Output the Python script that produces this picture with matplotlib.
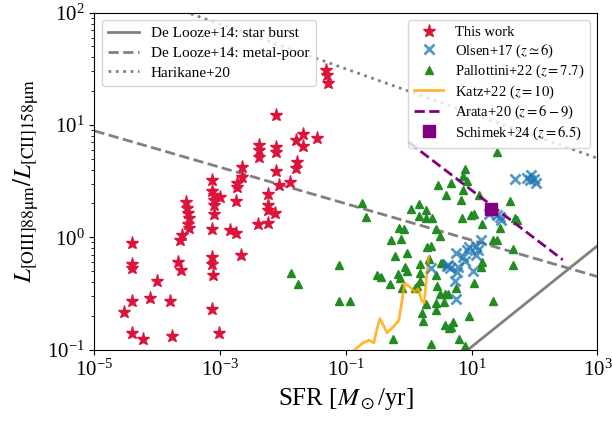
import numpy as np
import matplotlib
matplotlib.use("Agg")
import matplotlib.pyplot as plt
from matplotlib.ticker import NullLocator

plt.rcParams['font.family'] = 'serif'
plt.rcParams['font.serif'] = ['Liberation Serif', 'DejaVu Serif']
plt.rcParams['mathtext.fontset'] = 'stix'

# --- this work (stars) ---
sfr_this = [3.9e-5, 3.9e-5, 3.9e-5, 3.9e-5, 3.0e-5, 3.9e-5, 5.9e-5, 7.7e-5, 1.0e-4, 1.57e-4,
            1.71e-4, 2.15e-4, 2.37e-4, 2.29e-4, 2.46e-4, 2.85e-4, 2.96e-4, 3.1e-4, 3.2e-4, 3.1e-4,
            3.15e-4, 7.4e-4, 7.4e-4, 7.85e-4, 8.0e-4, 8.0e-4, 1.0e-3, 8.0e-4, 7.4e-4, 1.43e-3,
            7.4e-4, 7.4e-4, 7.6e-4, 7.4e-4, 9.6e-4,
            4.8e-2, 4.9e-2, 5.2e-2, 7.7e-3, 2.04e-2, 1.6e-2, 2.09e-2, 3.41e-2, 4.1e-3, 4.1e-3,
            4.1e-3, 7.6e-3, 7.6e-3, 1.64e-2, 1.6e-2, 2.24e-3, 2.24e-3, 1.82e-3, 1.82e-3, 7.6e-3,
            8.7e-3, 1.28e-2, 5.8e-3, 1.78e-3, 5.8e-3, 5.8e-3, 7.4e-3, 4.0e-3, 5.8e-3, 1.78e-3,
            2.13e-3]
ratio_this = [0.89, 0.575, 0.53, 0.27, 0.216, 0.14, 0.123, 0.29, 0.41, 0.27,
              0.132, 0.60, 0.51, 0.95, 1.04, 2.04, 1.81, 1.64, 1.48, 1.31,
              1.20, 3.22, 2.58, 2.37, 2.14, 1.93, 2.29, 1.60, 1.18, 1.15,
              0.67, 0.58, 0.46, 0.23, 0.14,
              30.7, 27.7, 23.4, 12.2, 8.38, 7.31, 6.46, 7.72, 6.69, 5.95,
              5.19, 6.37, 5.75, 4.69, 4.17, 4.23, 3.44, 3.01, 2.81, 3.89,
              2.90, 3.11, 2.41, 2.11, 1.93, 1.74, 1.63, 1.31, 1.34, 1.08,
              0.70]

# --- Pallottini+22 (triangles) ---
sfr_pal = [24.8, 7.77, 7.13, 8.26, 2.86, 4.65, 7.31, 3.87, 13.1, 6.63,
           40.3, 0.177, 0.207, 1.10, 1.46, 1.86, 1.46, 1.84, 2.35, 7.05,
           9.91, 10.8, 14.7, 28.0, 48.4, 51.5, 0.70, 0.83, 2.69, 0.52,
           0.74, 3.11, 1.96, 2.21, 21.4, 24.8, 44.5, 0.60, 0.92, 0.078,
           0.86, 0.94, 2.08, 1.53, 3.52, 0.306, 0.367, 0.50, 0.68, 0.72,
           0.79, 1.50, 1.53, 1.36, 1.24, 2.69, 3.23, 2.82, 3.11, 3.73,
           4.22, 5.58, 10.9, 14.0, 14.3, 44.5, 0.078, 0.115, 1.86, 1.59,
           2.69, 2.75, 3.60, 1.69, 9.10, 21.4, 3.73, 4.33, 5.07, 4.65,
           0.56, 2.21, 6.31, 7.77, 0.0133, 0.0174]
ratio_pal = [5.75, 4.01, 3.49, 3.18, 2.90, 3.05, 2.66, 2.40, 2.40, 2.14,
             2.11, 2.02, 1.50, 1.80, 1.97, 1.74, 1.54, 1.47, 1.47, 1.49,
             1.57, 1.62, 1.32, 1.22, 1.47, 1.42, 1.22, 1.19, 1.19, 0.95,
             0.96, 1.02, 0.81, 0.83, 0.95, 0.95, 0.79, 0.68, 0.72, 0.57,
             0.54, 0.50, 0.64, 0.575, 0.59, 0.46, 0.44, 0.38, 0.475, 0.43,
             0.35, 0.48, 0.41, 0.37, 0.35, 0.46, 0.59, 0.37, 0.31, 0.31,
             0.31, 0.35, 0.39, 0.54, 0.60, 0.56, 0.27, 0.27, 0.253, 0.21,
             0.257, 0.224, 0.266, 0.18, 0.20, 0.27, 0.165, 0.154, 0.176, 0.16,
             0.124, 0.113, 0.124, 0.107, 0.485, 0.38]

# --- Olsen+17 (crosses) ---
sfr_ols = [48.4, 74.3, 89.1, 97.1, 107, 83.9, 18.9, 24.8, 29.7, 28.6,
           13.8, 11.6, 12.6, 11.9, 9.1, 8.26, 7.31, 7.77, 5.58, 6.08,
           5.73, 5.38, 3.97, 4.49, 4.22, 2.29, 10.5, 5.58]
ratio_ols = [3.33, 3.40, 3.61, 3.33, 3.05, 3.22, 1.60, 1.57, 1.42, 1.50,
             0.95, 0.83, 0.77, 0.69, 0.82, 0.77, 0.66, 0.62, 0.73, 0.54,
             0.49, 0.41, 0.55, 0.53, 0.57, 0.53, 0.50, 0.28]

# --- Katz+22 (line) ---
sfr_katz = [0.12, 0.13, 0.188, 0.234, 0.278, 0.306, 0.346, 0.391, 0.452, 0.564,
            0.693, 0.78, 0.86, 1.04, 1.24, 1.41, 1.59, 1.75, 1.91, 2.06]
ratio_katz = [0.092, 0.097, 0.115, 0.121, 0.115, 0.147, 0.189, 0.165, 0.141, 0.159,
              0.182, 0.275, 0.392, 0.361, 0.326, 0.349, 0.275, 0.26, 0.443, 0.66]

# --- Arata+20 (dashed) ---
sfr_arata = [1.0, 280]
ratio_arata = [7.0, 0.63]

# --- Schimek+24 ---
sfr_sch = [20.0]
ratio_sch = [1.8]

# --- relations ---
sfr_sb = [8.8, 1000]
ratio_sb = [0.1, 0.84]
sfr_mp = [1e-5, 1e3]
ratio_mp = [8.85, 0.446]
sfr_har = [1e-5, 1e3]
ratio_har = [197, 5.05]

fig = plt.figure(figsize=(6.12, 4.21), dpi=100)
ax = fig.add_axes([0.1544, 0.1698, 0.8219, 0.8002])

l1, = ax.plot(sfr_sb, ratio_sb, color='gray', lw=2, ls='-', zorder=1)
l2, = ax.plot(sfr_mp, ratio_mp, color='gray', lw=2, ls='--', zorder=1)
l3, = ax.plot(sfr_har, ratio_har, color='gray', lw=2, ls=':', zorder=1)

h_pal, = ax.plot(sfr_pal, ratio_pal, ls='none', marker='^', ms=5.5, color='forestgreen', zorder=2)
h_katz, = ax.plot(sfr_katz, ratio_katz, color='orange', alpha=0.8, lw=2, zorder=3)
h_ols, = ax.plot(sfr_ols, ratio_ols, ls='none', marker='x', ms=7, mew=2, color='tab:blue', alpha=0.75, zorder=4)
h_ara, = ax.plot(sfr_arata, ratio_arata, color='purple', lw=2, ls='--', zorder=5)
h_sch, = ax.plot(sfr_sch, ratio_sch, ls='none', marker='s', ms=8.5, color='purple', zorder=6)
h_this, = ax.plot(sfr_this, ratio_this, ls='none', marker='*', ms=9.5, color='crimson', zorder=7)

ax.set_xscale('log')
ax.set_yscale('log')
ax.set_xlim(1e-5, 1e3)
ax.set_ylim(1e-1, 1e2)
ax.set_xticks([1e-5, 1e-3, 1e-1, 1e1, 1e3])
ax.xaxis.set_minor_locator(NullLocator())
ax.tick_params(labelsize=15)

ax.set_xlabel(r'SFR [$M_\odot$/yr]', fontsize=18)
ax.set_ylabel(r'$L_{\rm [OIII]88\mu m}/L_{\rm [CII]158\mu m}$', fontsize=18)

leg1 = ax.legend([l1, l2, l3],
                 ['De Looze+14: star burst', 'De Looze+14: metal-poor', 'Harikane+20'],
                 loc='upper left', fontsize=11, labelspacing=0.4)
ax.add_artist(leg1)
ax.legend([h_this, h_ols, h_pal, h_katz, h_ara, h_sch],
          ['This work', r'Olsen+17 ($z\simeq6$)', r'Pallottini+22 ($z=7.7$)',
           r'Katz+22 ($z=10$)', r'Arata+20 ($z=6-9$)', r'Schimek+24 ($z=6.5$)'],
          loc='upper right', fontsize=10.5, numpoints=1, labelspacing=0.22)

fig.savefig('out.png', dpi=100)
